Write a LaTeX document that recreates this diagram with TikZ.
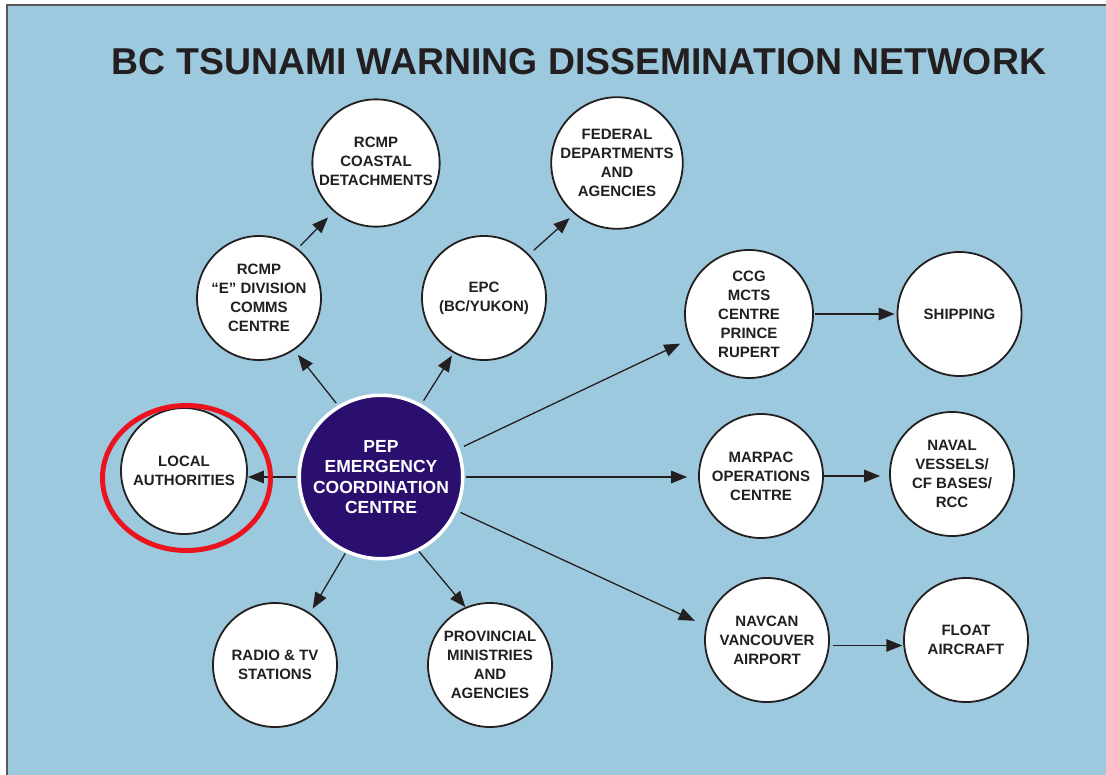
\documentclass[tikz,border=0pt]{standalone}
\usepackage{fontspec}
\setmainfont{Liberation Sans}
\usetikzlibrary{arrows.meta}
\definecolor{bgblue}{RGB}{157,201,223}
\definecolor{pepblue}{RGB}{42,15,110}
\definecolor{ink}{RGB}{35,31,32}
\definecolor{markred}{RGB}{235,20,30}
\begin{document}
\begin{tikzpicture}[x=1pt,y=-1pt,
  bub/.style={circle,draw=ink,line width=1.8pt,fill=white,minimum size=124pt,inner sep=0pt,align=center,font=\bfseries\fontsize{15}{19}\selectfont,text=ink},
  pepnode/.style={circle,draw=white,line width=3.5pt,fill=pepblue,minimum size=163.5pt,inner sep=0pt,align=center,font=\bfseries\fontsize{17.5}{20.5}\selectfont,text=white},
  arr/.style={draw=ink,line width=1.3pt,-{Triangle[length=16pt,width=12.5pt]}},
  titlefont/.style={font=\bfseries\fontsize{37.4}{41}\selectfont,text=ink}
]
\useasboundingbox (0,0) rectangle (1106,774);
\fill[white] (0,0) rectangle (1106,774);
\filldraw[fill=bgblue,draw=ink!75,line width=1.5pt] (7,5) rectangle (1130,800);

\node[titlefont,anchor=base] (title) at (579,74) {BC TSUNAMI WARNING DISSEMINATION NETWORK};

\node[bub] (coast) at (376,163) {\raisebox{8pt}{\begin{tabular}{@{}c@{}}RCMP\\COASTAL\\DETACHMENTS\end{tabular}}};
\node[bub] (fed) at (617,163) {FEDERAL\\DEPARTMENTS\\AND\\AGENCIES};
\node[bub] (ediv) at (259,298) {RCMP\\“E” DIVISION\\COMMS\\CENTRE};
\node[bub] (epc) at (484,298) {EPC\\(BC/YUKON)};
\node[bub,minimum size=128pt] (ccg) at (749,314) {CCG\\MCTS\\CENTRE\\PRINCE\\RUPERT};
\node[bub] (ship) at (959.5,314) {SHIPPING};
\node[pepnode] (pep) at (381,477) {PEP\\EMERGENCY\\COORDINATION\\CENTRE};
\node[bub,minimum size=126pt] (local) at (184,471) {LOCAL\\AUTHORITIES};
\node[bub] (marpac) at (761,476) {MARPAC\\OPERATIONS\\CENTRE};
\node[bub] (naval) at (952,474) {NAVAL\\VESSELS/\\CF BASES/\\RCC};
\node[bub] (radio) at (275,665) {RADIO \& TV\\STATIONS};
\node[bub] (prov) at (490,665) {PROVINCIAL\\MINISTRIES\\AND\\AGENCIES};
\node[bub] (navcan) at (767,640) {NAVCAN\\VANCOUVER\\AIRPORT};
\node[bub] (float) at (966,640) {FLOAT\\AIRCRAFT};

\draw[arr,shorten <=3pt,shorten >=6pt] (pep.121) -- (ediv.-56);
\draw[arr,shorten <=4pt,shorten >=8pt] (ediv.52) -- (coast.-131);
\draw[arr,shorten <=4pt,shorten >=3pt] (pep.61) -- (epc.-119);
\draw[arr,shorten <=6pt,shorten >=6pt] (epc.44) -- (fed.-130);
\draw[arr,shorten <=5pt,shorten >=10pt] (pep.20) -- (ccg.203);
\draw[arr,shorten <=1pt,shorten >=11pt] (pep.0) -- (pep.0 -| marpac.180);
\draw[arr,shorten <=3.5pt,shorten >=12pt] (pep.-24.5) -- (navcan.167);
\draw[arr,shorten <=3pt,shorten >=1pt] (navcan.-5) -- (float.185);
\draw[arr,shorten <=1pt,shorten >=2pt] (ccg.0) -- (ccg.0 -| ship.180);
\draw[arr,shorten <=0pt,shorten >=9pt] (marpac.0) -- (marpac.0 -| naval.180);
\draw[arr,shorten <=2pt,shorten >=0pt] (pep.180) -- (pep.180 -| local.0);
\draw[arr,shorten <=1pt,shorten >=5pt] (pep.-115.3) -- (radio.56.3);
\draw[arr] (pep.-63.7) -- (prov.113.7);

\draw[markred,line width=5pt] (186.5,478) ellipse [x radius=84, y radius=72.5];
\end{tikzpicture}
\end{document}
